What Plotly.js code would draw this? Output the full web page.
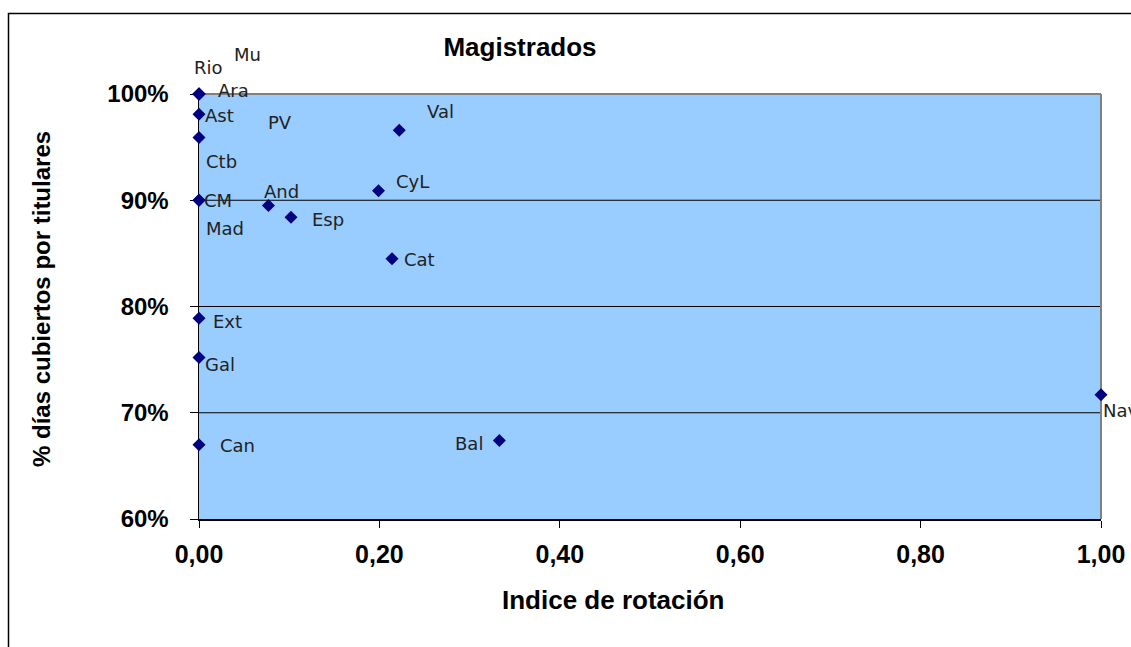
<!DOCTYPE html>
<html>
<head>
<meta charset="utf-8">
<script src="https://cdn.plot.ly/plotly-3.0.1.min.js"></script>
<style>html,body{margin:0;padding:0;background:#fff;}#chart{width:1131px;height:647px;}</style>
</head>
<body>
<div id="chart"></div>
<script>
// ---- data ----
const regions = ['Rio','Mu','Ara','PV','Ast','Ctb','CM','Mad','And','Esp','CyL','Val','Cat','Ext','Gal','Can','Bal','Nav'];
const rotationIndex = [0,0,0,0,0,0,0,0,0.077,0.102,0.199,0.222,0.214,0,0,0,0.333,1.0];
const coveredShare = [1.0,1.0,1.0,1.0,0.981,0.959,0.900,0.900,0.895,0.884,0.909,0.966,0.845,0.789,0.752,0.670,0.674,0.717];
const xTickVals = [0,0.2,0.4,0.6,0.8,1.0];
const yTickVals = [0.6,0.7,0.8,0.9,1.0];
const gridVals = [0.7,0.8,0.9];
const chartTitle = 'Magistrados';
const xTitle = 'Indice de rotación';
const yTitle = '% días cubiertos por titulares';

// ---- label placement (pixel offsets from marker, style only) ----
const labelOffsets = {
  Rio:[9,-27], Mu:[48,-40], Ara:[34,-4], PV:[81,28], Ast:[20,1], Ctb:[22,24],
  CM:[19,0], Mad:[26,28], And:[13,-14], Esp:[37,2], CyL:[34,-9], Val:[41,-19],
  Cat:[27,1], Ext:[28,3], Gal:[21,7], Can:[38,1], Bal:[-30,3], Nav:[0,16]
};

const M = {l:199, r:30, t:94, b:128};
const W = 1131, H = 647;
const pw = W - M.l - M.r, ph = H - M.t - M.b;

const trace = {
  type:'scatter', mode:'markers',
  x: rotationIndex, y: coveredShare, text: regions,
  marker:{symbol:'diamond', size:10, color:'#000080'},
  cliponaxis:false, hoverinfo:'text+x+y'
};

const labelFont = {family:'DejaVu Sans, Verdana, sans-serif', size:18, color:'#222'};
const boldFont = (s)=>({family:'Liberation Sans, Arial, sans-serif', size:s, color:'#000', weight:'bold'});

const annotations = regions.map((r,i)=>{
  const o = labelOffsets[r];
  return {
    x: rotationIndex[i], y: coveredShare[i], xref:'x', yref:'y',
    text: r, showarrow:false, font: labelFont,
    xanchor: r==='Nav' ? 'left' : 'center', yanchor:'middle',
    xshift: o[0], yshift: -o[1]
  };
});
// axis titles (placed as in the reference, slightly off-centre)
annotations.push({text:xTitle, xref:'paper', yref:'paper', x:(613-M.l)/pw, y:(H-M.b-600)/ph,
  xanchor:'center', yanchor:'middle', showarrow:false, font:boldFont(26)});
annotations.push({text:yTitle, xref:'paper', yref:'paper', x:(41-M.l)/pw, y:(H-M.b-299)/ph,
  xanchor:'center', yanchor:'middle', textangle:-90, showarrow:false, font:boldFont(24)});

const shapes = [];
gridVals.forEach(v=>shapes.push({type:'line', xref:'paper', yref:'y', x0:0, x1:1, y0:v, y1:v,
  line:{color:'#000', width:1.2}, layer:'below'}));
shapes.push({type:'line', xref:'paper', yref:'paper', x0:0, x1:1, y0:1, y1:1, line:{color:'#808080', width:2}, layer:'below'});
shapes.push({type:'line', xref:'paper', yref:'paper', x0:1, x1:1, y0:0, y1:1, line:{color:'#808080', width:2}, layer:'below'});
// outer chart frame
shapes.push({type:'rect', xref:'paper', yref:'paper',
  x0:(8.5-M.l)/pw, x1:2, y0:-2, y1:(H-M.b-13.5)/ph,
  line:{color:'#000', width:1.5}, fillcolor:'rgba(0,0,0,0)', layer:'below'});

const layout = {
  width:W, height:H, margin:M,
  paper_bgcolor:'#fff', plot_bgcolor:'#99CCFF',
  separators:',.',
  showlegend:false,
  title:{text:chartTitle, font:boldFont(26), xref:'container', yref:'container',
    x:520/W, xanchor:'center', y:1-47/H, yanchor:'middle'},
  xaxis:{range:[0,1], tickvals:xTickVals, tickformat:'.2f', showgrid:false, zeroline:false,
    showline:true, linecolor:'#000', linewidth:1.5, ticks:'outside', ticklen:7, tickcolor:'#000', tickwidth:1,
    tickfont:boldFont(25), ticklabelstandoff:5, layer:'below traces', automargin:false},
  yaxis:{range:[0.6,1], tickvals:yTickVals, tickformat:'.0%', showgrid:false, zeroline:false,
    showline:true, linecolor:'#000', linewidth:1.5, ticks:'outside', ticklen:8, tickcolor:'#000', tickwidth:1,
    tickfont:boldFont(24), ticklabelstandoff:16, layer:'below traces', automargin:false},
  shapes: shapes,
  annotations: annotations
};

Plotly.newPlot('chart', [trace], layout, {displayModeBar:false, staticPlot:true});
</script>
</body>
</html>
